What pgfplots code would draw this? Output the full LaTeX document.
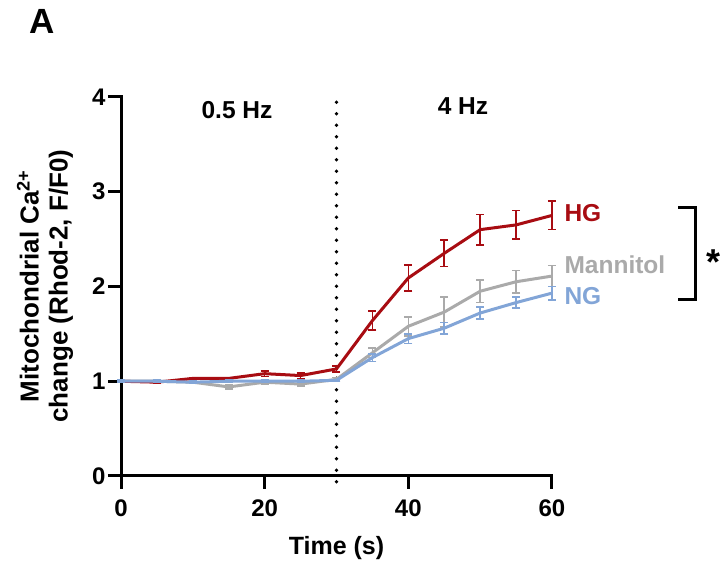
\documentclass[border=0pt]{standalone}
\usepackage{pgfplots}
\pgfplotsset{compat=1.18}
\usepackage{fontspec}
\setmainfont{Liberation Sans}
\definecolor{hgred}{RGB}{168,12,18}
\definecolor{mangray}{RGB}{170,170,170}
\definecolor{ngblue}{RGB}{130,165,215}
\pgfplotstableread{
x y e
0 1.00 0.01
5 0.99 0.01
10 1.03 0.01
15 1.03 0.01
20 1.08 0.03
25 1.06 0.03
30 1.13 0.03
35 1.64 0.10
40 2.09 0.14
45 2.35 0.14
50 2.60 0.16
55 2.65 0.15
60 2.75 0.15
}\hg
\pgfplotstableread{
x y e
0 1.00 0.01
5 1.00 0.01
10 0.99 0.01
15 0.94 0.02
20 0.99 0.02
25 0.97 0.02
30 1.02 0.02
35 1.30 0.05
40 1.58 0.10
45 1.73 0.16
50 1.95 0.12
55 2.05 0.12
60 2.11 0.11
}\man
\pgfplotstableread{
x y e
0 1.00 0.01
5 1.00 0.01
10 0.99 0.01
15 1.00 0.01
20 1.00 0.01
25 1.00 0.01
30 1.01 0.01
35 1.25 0.04
40 1.45 0.05
45 1.56 0.06
50 1.72 0.065
55 1.83 0.06
60 1.93 0.07
}\ng
\begin{document}
\begin{tikzpicture}[font=\fontsize{24.5}{28}\selectfont\bfseries]
\useasboundingbox (0,0) rectangle (724pt,567pt);
\begin{axis}[
  at={(121pt,91pt)}, anchor=south west,
  scale only axis, width=431pt, height=379pt,
  xmin=0, xmax=60, ymin=0, ymax=4,
  axis lines*=left,
  axis line style={line width=3pt, line cap=rect},
  every tick/.style={black, line width=3pt},
  tick align=outside, major tick length=13pt,
  xtick={0,20,40,60}, ytick={0,1,2,3,4},
  minor tick num=0,
  /pgf/number format/assume math mode=true,
  ticklabel style={font=\fontsize{24}{28}\selectfont\bfseries},
  yticklabel style={xshift=1pt},
  xticklabel style={yshift=-7pt},
  xlabel={Time (s)},
  xlabel style={font=\fontsize{25}{28}\selectfont\bfseries, yshift=-13pt},
  clip=false,
  error bars/y dir=both, error bars/y explicit,
  error bars/error bar style={line width=1.6pt},
  error bars/error mark options={rotate=90, mark size=4pt, line width=1.6pt},
]
\addplot[black, line width=3.8pt, dash pattern=on 0pt off 11.5pt, line cap=round, forget plot] coordinates {(30,-0.06) (30,4)};
\addplot[mangray, line width=3pt, mark=none] table[x=x,y=y,y error=e] {\man};
\addplot[hgred, line width=3pt, mark=none] table[x=x,y=y,y error=e] {\hg};
\addplot[ngblue, line width=3pt, mark=none] table[x=x,y=y,y error=e] {\ng};
\end{axis}
\node[font=\fontsize{35}{40}\selectfont\bfseries] at (42pt,546pt) {A};
\node at (237pt,457pt) {0.5 Hz};
\node at (463pt,461pt) {4 Hz};
\node[rotate=90, align=center, inner sep=0pt, font=\fontsize{26}{29}\selectfont\bfseries] at (45pt,281pt) {Mitochondrial Ca\textsuperscript{2+}\\change (Rhod-2, F/F0)};
\node[anchor=west, text=hgred] at (561pt,354pt) {HG};
\node[anchor=west, text=mangray] at (561pt,302pt) {Mannitol};
\node[anchor=west, text=ngblue] at (561pt,271pt) {NG};
\draw[line width=3pt] (678pt,359pt) -- (695pt,359pt) -- (695pt,267pt) -- (678pt,267pt);
\node[font=\fontsize{36}{40}\selectfont\bfseries] at (714pt,305pt) {*};
\end{tikzpicture}
\end{document}
